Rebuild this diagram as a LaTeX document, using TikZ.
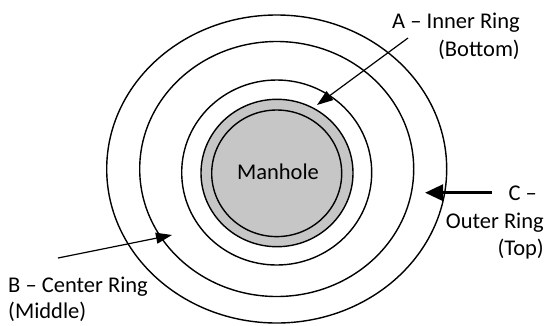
\documentclass[tikz,border=0pt]{standalone}
\usepackage{fontspec}
\setmainfont{Carlito}
\usetikzlibrary{arrows.meta}
\usetikzlibrary{positioning}

\tikzset{
  ring/.style={line width=1.4pt},
  callout/.style={font=\fontsize{22.5}{27.5}\selectfont, inner sep=0pt},
  pointer/.style={line width=1.2pt, -{Triangle[length=16pt, width=11pt]}},
  bigpointer/.style={line width=3.2pt, -{Triangle[length=18pt, width=16pt]}},
}

\begin{document}
\begin{tikzpicture}[x=1pt, y=-1pt]
      \useasboundingbox (0,0) rectangle (548,325);

      % Draw the three rings, outermost first
      \foreach \cy/\rx/\ry in {169/170/154, 169/137/127.5, 172.5/95/92.5} {
        \draw[ring] (276.7,\cy) ellipse [x radius=\rx pt, y radius=\ry pt];
      }

      % Manhole cover
      \draw[ring, fill=gray!45] (277,173) ellipse [x radius=76pt, y radius=73.7pt];
      \draw[ring] (276.7,173.3) ellipse [x radius=65pt, y radius=63.3pt];
      \node[callout] (manhole) at (278,172) {Manhole};

      % Labels
      \node[callout, align=right, anchor=north east] (inner) at (520,13) {A – Inner Ring\\(Bottom)};
      \node[callout, align=right, anchor=north east] (outer) at (544,186) {C –\hspace*{7pt}\\Outer Ring\\(Top)};
      \node[callout, font=\fontsize{22.5}{26}\selectfont, align=left, anchor=north west] (center) at (8,277) {B – Center Ring\\(Middle)};

      % Pointers to the rings
      \coordinate (innertail) at (408,38);
      \coordinate (innertip) at (317,105);
      \draw[pointer] (innertail) -- (innertip);

      \coordinate (outertail) at (492,192.7);
      \coordinate (outertip) at (425,192.7);
      \draw[bigpointer] (outertail) -- (outertip);

      \coordinate (centertail) at (58,258);
      \coordinate (centertip) at (172,235);
      \draw[pointer] (centertail) -- (centertip);
\end{tikzpicture}
\end{document}
